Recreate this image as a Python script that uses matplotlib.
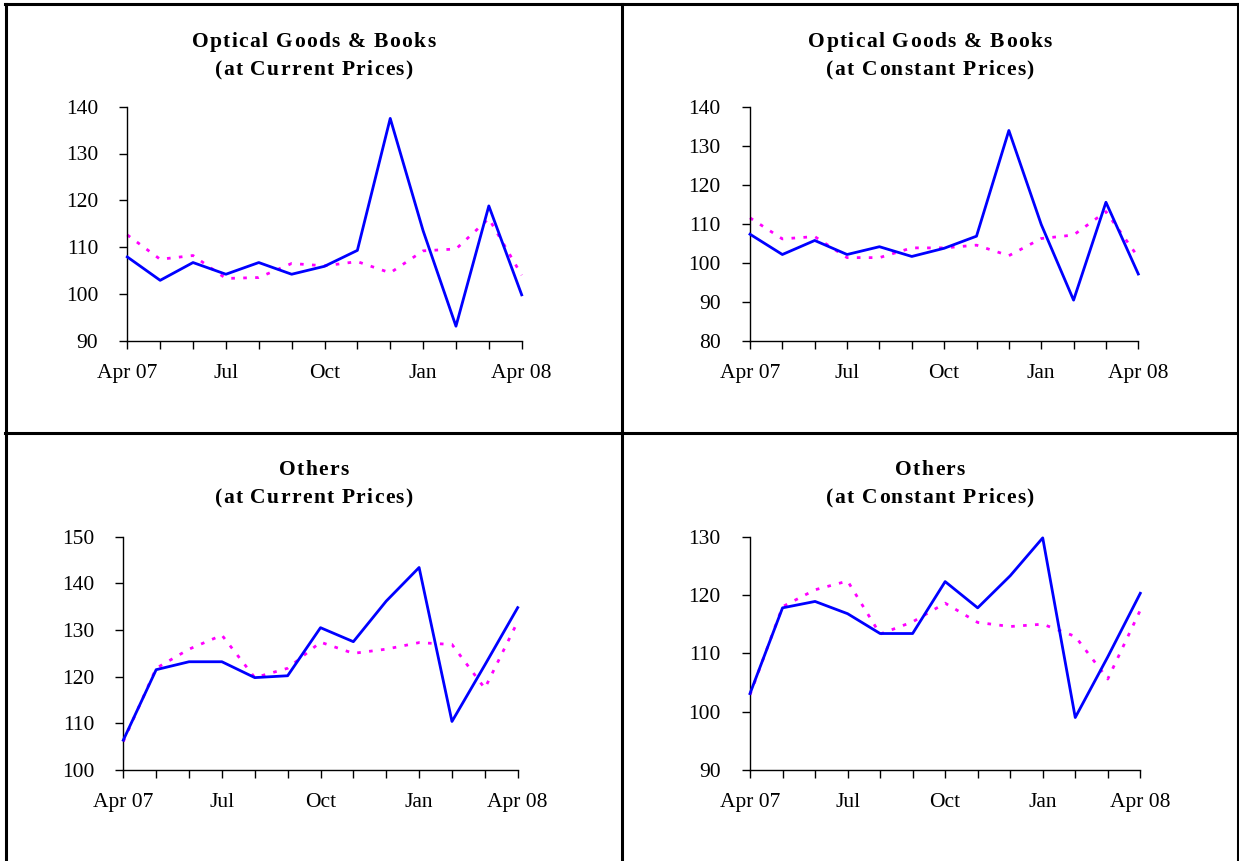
import matplotlib
matplotlib.use("Agg")
import matplotlib.pyplot as plt
from matplotlib.lines import Line2D
from matplotlib.font_manager import FontProperties
import numpy as np

plt.rcParams['font.family'] = ['Liberation Serif', 'DejaVu Serif']

months = ["Apr 07", "May", "Jun", "Jul", "Aug", "Sep", "Oct", "Nov", "Dec", "Jan", "Feb", "Mar", "Apr 08"]
tick_labels = ["Apr 07", "", "", "Jul", "", "", "Oct", "", "", "Jan", "", "", "Apr 08"]

optical_current_actual = [107.9, 102.9, 106.7, 104.2, 106.7, 104.2, 105.9, 109.3, 137.5, 113.5, 93.1, 118.8, 99.8]
optical_current_trend = [112.6, 107.4, 108.2, 103.3, 103.5, 106.5, 106.0, 106.9, 104.5, 109.2, 109.6, 116.1, 104.0]

optical_constant_actual = [107.3, 102.1, 105.7, 102.1, 104.1, 101.6, 103.7, 106.8, 133.9, 109.8, 90.4, 115.5, 97.1]
optical_constant_trend = [111.5, 106.1, 106.7, 101.3, 101.3, 103.8, 103.8, 104.5, 101.8, 106.2, 107.1, 113.1, 101.4]

others_current_actual = [106.4, 121.5, 123.2, 123.2, 119.8, 120.2, 130.5, 127.5, 136.2, 143.4, 110.4, 122.5, 134.8]
others_current_trend = [106.1, 121.8, 125.9, 128.9, 119.8, 121.8, 127.4, 125.0, 125.9, 127.3, 126.9, 117.5, 131.8]

others_constant_actual = [103.1, 117.8, 118.9, 116.8, 113.4, 113.4, 122.3, 117.8, 123.3, 129.8, 99.0, 109.4, 120.3]
others_constant_trend = [102.9, 118.0, 120.9, 122.4, 113.3, 115.4, 118.6, 115.3, 114.6, 115.0, 112.9, 105.6, 117.4]

W, H = 1239, 861
fig = plt.figure(figsize=(W / 100, H / 100), dpi=100)
renderer = fig.canvas.get_renderer()

TICK_FS = 15.5
TITLE_FS = 15.5
title_prop = FontProperties(family=['Liberation Serif'], weight='bold', size=TITLE_FS)


def text_w(s):
    w, h, d = renderer.get_text_width_height_descent(s, title_prop, ismath=False)
    return w


def spaced_text(cx, cy, s, spacing):
    base = text_w("nn")
    widths = [text_w("n" + ch + "n") - base for ch in s]
    total = sum(widths) + spacing * (len(s) - 1)
    xpos = cx - total / 2
    baseline = cy + 0.33 * TITLE_FS * 100 / 72
    for ch, w in zip(s, widths):
        fig.text(xpos / W, 1 - baseline / H, ch, ha="left", va="baseline",
                 fontproperties=title_prop)
        xpos += w + spacing


panels = [
    dict(title=["Optical Goods & Books", "(at Current Prices)"], a=optical_current_actual, t=optical_current_trend,
         yt=[90, 100, 110, 120, 130, 140], px=(127.3, 521.7, 106.7, 340.7), cx=313.5, ty=40),
    dict(title=["Optical Goods & Books", "(at Constant Prices)"], a=optical_constant_actual, t=optical_constant_trend,
         yt=[80, 90, 100, 110, 120, 130, 140], px=(750.0, 1138.3, 106.7, 340.7), cx=930.0, ty=40),
    dict(title=["Others", "(at Current Prices)"], a=others_current_actual, t=others_current_trend,
         yt=[100, 110, 120, 130, 140, 150], px=(123.3, 517.7, 536.7, 770.0), cx=313.5, ty=468),
    dict(title=["Others", "(at Constant Prices)"], a=others_constant_actual, t=others_constant_trend,
         yt=[90, 100, 110, 120, 130], px=(750.0, 1140.3, 536.7, 770.0), cx=930.0, ty=468),
]

x = np.arange(len(months))
for p in panels:
    l, r, tp, bt = p["px"]
    ax = fig.add_axes([l / W, (H - bt) / H, (r - l) / W, (bt - tp) / H])
    ax.plot(x, p["t"], color="#FF00FF", lw=2.0, linestyle=(0, (1.3, 3.0)), zorder=2, clip_on=False)
    ax.plot(x, p["a"], color="#0000FF", lw=2.0, zorder=3, clip_on=False)
    ax.set_xlim(0, 12)
    ax.set_ylim(p["yt"][0], p["yt"][-1])
    ax.set_yticks(p["yt"])
    ax.set_xticks(x)
    ax.set_xticklabels(tick_labels)
    for s in ["top", "right"]:
        ax.spines[s].set_visible(False)
    for s in ["left", "bottom"]:
        ax.spines[s].set_linewidth(1.0)
    ax.tick_params(axis="y", direction="out", length=6, width=1.0, pad=15, labelsize=TICK_FS)
    ax.tick_params(axis="x", direction="out", length=6, width=1.0, pad=10.5, labelsize=TICK_FS)
    ax.patch.set_alpha(0)
    spaced_text(p["cx"], p["ty"], p["title"][0], 1.3)
    spaced_text(p["cx"], p["ty"] + 28, p["title"][1], 1.3)

# panel borders
lw = 2.2
def hline(y, x0, x1):
    fig.add_artist(Line2D([x0 / W, x1 / W], [1 - y / H, 1 - y / H], color="black", lw=lw))
def vline(xp, y0, y1):
    fig.add_artist(Line2D([xp / W, xp / W], [1 - y0 / H, 1 - y1 / H], color="black", lw=lw))

hline(4, 5, 1238)
hline(432.5, 5, 1238)
vline(6, 4, 861)
vline(621.7, 4, 861)
vline(1237.5, 4, 861)

fig.savefig("out.png", dpi=100)
